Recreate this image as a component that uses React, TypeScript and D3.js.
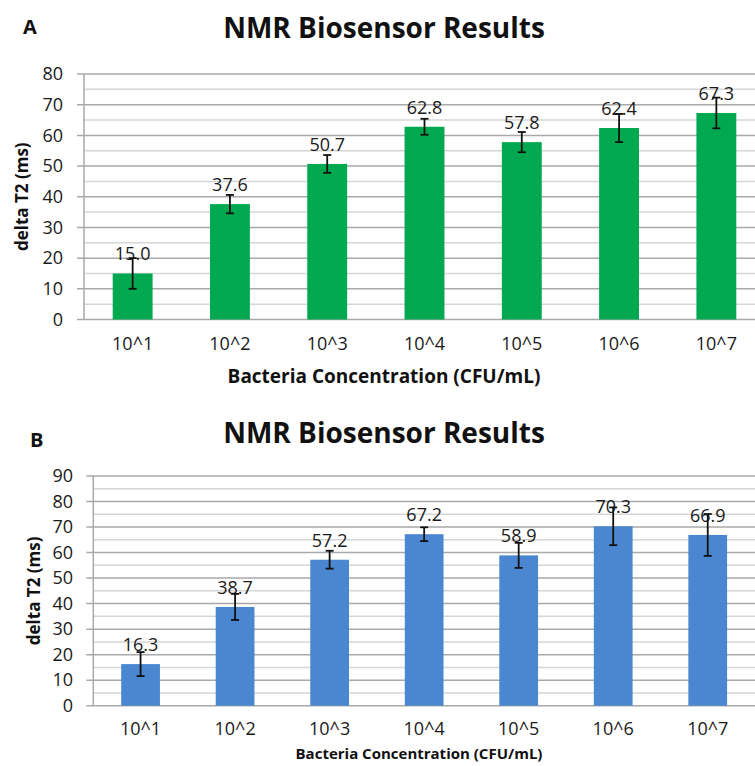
import React from 'react';
import * as d3 from 'd3';

const categories = ['10^1', '10^2', '10^3', '10^4', '10^5', '10^6', '10^7'];

const valuesA = [15.0, 37.6, 50.7, 62.8, 57.8, 62.4, 67.3];
const errorsA = [5.0, 3.0, 2.9, 2.6, 3.3, 4.6, 5.0];
const ticksA = [0, 10, 20, 30, 40, 50, 60, 70, 80];

const valuesB = [16.3, 38.7, 57.2, 67.2, 58.9, 70.3, 66.9];
const errorsB = [4.7, 5.1, 3.5, 2.7, 4.9, 7.4, 8.2];
const ticksB = [0, 10, 20, 30, 40, 50, 60, 70, 80, 90];

const FONT = "'Open Sans', 'DejaVu Sans', sans-serif";

type PanelProps = {
  letter: string;
  letterX: number;
  letterY: number;
  titleY: number;
  values: number[];
  errors: number[];
  ticks: number[];
  color: string;
  left: number;
  right: number;
  top: number;
  bottom: number;
  yLabelX: number;
  tickLabelY: number;
  xTitleX: number;
  xTitleY: number;
  xTitleSize: number;
  yTitleSize: number;
  tickLabelRight: number;
};

const Panel = (p: PanelProps) => {
  const ymax = p.ticks[p.ticks.length - 1];
  const x = d3.scaleBand<string>().domain(categories).range([p.left, p.right]).paddingInner(0.59).paddingOuter(0.295);
  const y = d3.scaleLinear().domain([0, ymax]).range([p.bottom, p.top]);
  const minor = d3.range(5, ymax, 10);
  const bw = x.bandwidth();

  return (
    <g>
      <text x={p.letterX} y={p.letterY} fontFamily={FONT} fontWeight="bold" fontSize={20} fill="#111">{p.letter}</text>
      <text x={384} y={p.titleY} textAnchor="middle" fontFamily={FONT} fontWeight="bold" fontSize={28} fill="#111">NMR Biosensor Results</text>

      {minor.map((t) => (
        <line key={'m' + t} x1={p.left} x2={p.right} y1={y(t)} y2={y(t)} stroke="#d6d6d6" strokeWidth={1.5} />
      ))}
      {p.ticks.map((t) => (
        <g key={'t' + t}>
          <line x1={p.left - 7} x2={p.right} y1={y(t)} y2={y(t)} stroke="#a9a9a9" strokeWidth={1.5} />
          <text x={p.tickLabelRight} y={y(t)} dy="0.35em" textAnchor="end" fontFamily={FONT} fontSize={18} fill="#1a1a1a">{t}</text>
        </g>
      ))}
      <line x1={p.left} x2={p.left} y1={p.top} y2={p.bottom} stroke="#a9a9a9" strokeWidth={1.5} />

      {p.values.map((v, i) => (
        <rect key={'b' + i} x={x(categories[i])} y={y(v)} width={bw} height={p.bottom - y(v)} fill={p.color} />
      ))}
      {p.values.map((v, i) => (
        <text key={'v' + i} x={(x(categories[i]) as number) + bw / 2} y={y(v) - 13} textAnchor="middle" fontFamily={FONT} fontSize={18} fill="#1a1a1a">{v.toFixed(1)}</text>
      ))}
      {p.values.map((v, i) => {
        const cx = (x(categories[i]) as number) + bw / 2;
        const hi = y(v + p.errors[i]);
        const lo = y(v - p.errors[i]);
        return (
          <g key={'e' + i} stroke="#111" strokeWidth={1.8}>
            <line x1={cx} x2={cx} y1={hi} y2={lo} />
            <line x1={cx - 4} x2={cx + 4} y1={hi} y2={hi} />
            <line x1={cx - 4} x2={cx + 4} y1={lo} y2={lo} />
          </g>
        );
      })}

      {categories.map((c) => (
        <text key={'c' + c} x={(x(c) as number) + bw / 2} y={p.tickLabelY} textAnchor="middle" fontFamily={FONT} fontSize={18} fill="#1a1a1a">{c}</text>
      ))}
      <text x={p.xTitleX} y={p.xTitleY} textAnchor="middle" fontFamily={FONT} fontWeight="bold" fontSize={p.xTitleSize} fill="#111">Bacteria Concentration (CFU/mL)</text>
      <text transform={`translate(${p.yLabelX},${(p.top + p.bottom) / 2}) rotate(-90)`} dy="0.35em" textAnchor="middle" fontFamily={FONT} fontWeight="bold" fontSize={p.yTitleSize} fill="#111">delta T2 (ms)</text>
    </g>
  );
};

export default function App() {
  return (
    <svg width={755} height={766} style={{ position: 'absolute', left: 0, top: 0, background: '#fff' }}>
      <rect width={755} height={766} fill="#fff" />
      <Panel
        letter="A" letterX={23} letterY={34} titleY={38}
        values={valuesA} errors={errorsA} ticks={ticksA} color="#00a94f"
        left={84} right={765} top={74} bottom={319.5}
        yLabelX={22} tickLabelY={350} xTitleX={384} xTitleY={383} xTitleSize={19} yTitleSize={17}
        tickLabelRight={63}
      />
      <Panel
        letter="B" letterX={30} letterY={447} titleY={443}
        values={valuesB} errors={errorsB} ticks={ticksB} color="#4a87d0"
        left={93.3} right={755} top={476} bottom={705.7}
        yLabelX={34} tickLabelY={735} xTitleX={419} xTitleY={759} xTitleSize={15} yTitleSize={17}
        tickLabelRight={73}
      />
    </svg>
  );
}
